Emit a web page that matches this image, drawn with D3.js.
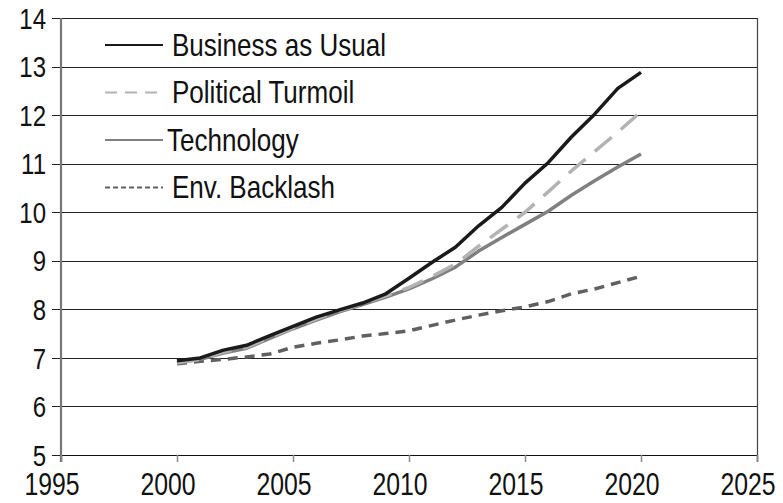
<!DOCTYPE html>
<html>
<head>
<meta charset="utf-8">
<script src="https://cdn.jsdelivr.net/npm/d3@7"></script>
<style>
  body { margin: 0; background: #fff; }
  svg text { font-family: "Liberation Sans", Arial, sans-serif; fill: #111; }
</style>
</head>
<body>
<div id="chart"></div>
<script>
const years = d3.range(2000, 2021);
const businessAsUsual = [6.94, 7.0, 7.16, 7.26, 7.46, 7.65, 7.84, 7.99, 8.13, 8.32, 8.64, 8.97, 9.28, 9.72, 10.1, 10.6, 11.02, 11.55, 12.02, 12.55, 12.88];
const politicalTurmoil = [6.9, 6.97, 7.12, 7.22, 7.42, 7.62, 7.8, 7.97, 8.12, 8.28, 8.45, 8.68, 8.93, 9.3, 9.65, 10.0, 10.42, 10.85, 11.25, 11.65, 12.07];
const technology = [6.9, 6.97, 7.1, 7.2, 7.4, 7.6, 7.78, 7.95, 8.1, 8.25, 8.42, 8.63, 8.87, 9.2, 9.48, 9.75, 10.02, 10.35, 10.65, 10.93, 11.2];
const envBacklash = [6.88, 6.93, 6.97, 7.02, 7.08, 7.22, 7.3, 7.37, 7.45, 7.5, 7.56, 7.67, 7.78, 7.88, 7.97, 8.05, 8.16, 8.32, 8.42, 8.55, 8.68];
const xTicks = [1995, 2000, 2005, 2010, 2015, 2020, 2025];
const yTicks = [5, 6, 7, 8, 9, 10, 11, 12, 13, 14];

const series = [
  {name: 'Business as Usual', values: businessAsUsual, color: '#1a1a1a', width: 3.5, dash: null, legendDash: null},
  {name: 'Political Turmoil', values: politicalTurmoil, color: '#b3b3b3', width: 3.5, dash: '22,12', legendDash: '12,8'},
  {name: 'Technology', values: technology, color: '#808080', width: 3.5, dash: null, legendDash: null},
  {name: 'Env. Backlash', values: envBacklash, color: '#606060', width: 3.5, dash: '10,7', legendDash: '5,3'}
];

const width = 783, height = 503;
const margin = {left: 61, right: 26, top: 18, bottom: 48};
const tickFont = 31, squeeze = 0.8;

const svg = d3.select('#chart').append('svg')
  .attr('width', width)
  .attr('height', height);

const x = d3.scaleLinear().domain([1995, 2025]).range([margin.left, width - margin.right]);
const y = d3.scaleLinear().domain([5, 14]).range([height - margin.bottom, margin.top]);

// gridlines
svg.append('g')
  .selectAll('line')
  .data(yTicks)
  .join('line')
  .attr('x1', margin.left - 9)
  .attr('x2', width - margin.right)
  .attr('y1', d => Math.round(y(d)) + 0.5)
  .attr('y2', d => Math.round(y(d)) + 0.5)
  .attr('stroke', '#222')
  .attr('stroke-width', 1.2);

// right border
svg.append('line')
  .attr('x1', width - margin.right + 0.5).attr('x2', width - margin.right + 0.5)
  .attr('y1', margin.top).attr('y2', height - margin.bottom + 7)
  .attr('stroke', '#444').attr('stroke-width', 1.2);

// left axis line
svg.append('line')
  .attr('x1', margin.left).attr('x2', margin.left)
  .attr('y1', margin.top).attr('y2', height - margin.bottom + 7)
  .attr('stroke', '#777').attr('stroke-width', 2.2);

// x axis
const xAxis = d3.axisBottom(x).tickValues(xTicks).tickFormat(d3.format('d')).tickSize(7).tickPadding(11);
const xAxisG = svg.append('g')
  .attr('transform', `translate(0, ${height - margin.bottom})`)
  .call(xAxis);
xAxisG.select('.domain').attr('stroke', '#111').attr('stroke-width', 1.2);
xAxisG.selectAll('line').attr('stroke', '#888').attr('stroke-width', 1.5);
xAxisG.selectAll('text')
  .style('font-size', tickFont + 'px')
  .attr('fill', '#111')
  .attr('transform', `translate(-9.5, 0) scale(${squeeze}, 1)`);

// y axis labels
const yAxis = d3.axisLeft(y).tickValues(yTicks).tickSize(0);
const yAxisG = svg.append('g')
  .attr('transform', `translate(${margin.left}, 0)`)
  .call(yAxis);
yAxisG.select('.domain').remove();
yAxisG.selectAll('text')
  .style('font-size', '30px')
  .attr('fill', '#111')
  .attr('x', null)
  .attr('dy', '0.34em')
  .attr('transform', `translate(-15, 0) scale(${squeeze}, 1)`);

// lines
const line = d3.line()
  .x((d, i) => x(years[i]))
  .y(d => y(d));

const order = [3, 2, 1, 0];
svg.append('g')
  .selectAll('path')
  .data(order.map(i => series[i]))
  .join('path')
  .attr('d', d => line(d.values))
  .attr('fill', 'none')
  .attr('stroke', d => d.color)
  .attr('stroke-width', d => d.width)
  .attr('stroke-dasharray', d => d.dash)
  .attr('stroke-linejoin', 'round');

// legend
const legend = svg.append('g');
const legendRows = legend.selectAll('g')
  .data(series)
  .join('g')
  .attr('transform', (d, i) => `translate(105, ${45 + i * 47.5})`);

legendRows.append('line')
  .attr('x1', 0).attr('x2', 58)
  .attr('stroke', d => d.color)
  .attr('stroke-width', 2)
  .attr('stroke-dasharray', d => d.legendDash);

legendRows.append('text')
  .attr('dy', '0.35em')
  .attr('transform', d => `translate(${d.name === 'Technology' ? 62 : 67}, 0) scale(0.84, 1)`)
  .style('font-size', '31px')
  .text(d => d.name);
</script>
</body>
</html>
